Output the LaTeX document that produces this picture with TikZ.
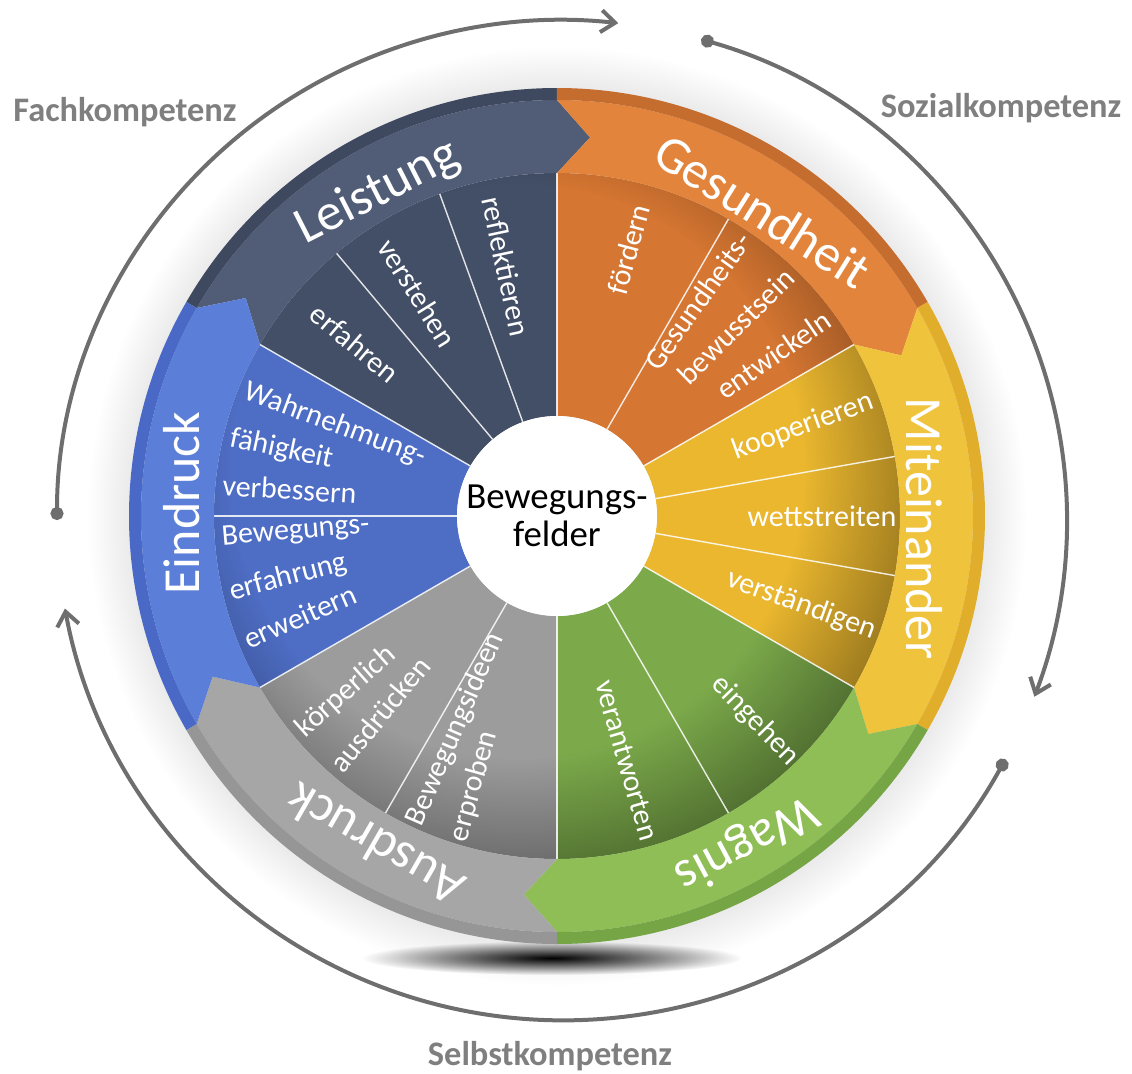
\documentclass[tikz,border=0pt]{standalone}
\usepackage{fontspec}
\setmainfont{Carlito}
\usetikzlibrary{arrows.meta,fadings}

\definecolor{bandleistung}{HTML}{515D77}
\definecolor{fieldleistung}{HTML}{434F66}
\definecolor{rimleistung}{HTML}{3E495F}
\definecolor{bandgesundheit}{HTML}{E2843C}
\definecolor{fieldgesundheit}{HTML}{D57632}
\definecolor{rimgesundheit}{HTML}{C56D2F}
\definecolor{bandmiteinander}{HTML}{F0C33D}
\definecolor{fieldmiteinander}{HTML}{EAB72F}
\definecolor{rimmiteinander}{HTML}{E1AE2C}
\definecolor{bandwagnis}{HTML}{8FBE56}
\definecolor{fieldwagnis}{HTML}{7CAA4B}
\definecolor{rimwagnis}{HTML}{75A545}
\definecolor{bandausdruck}{HTML}{A6A6A6}
\definecolor{fieldausdruck}{HTML}{9C9C9C}
\definecolor{rimausdruck}{HTML}{969696}
\definecolor{bandeindruck}{HTML}{5B7FD8}
\definecolor{fieldeindruck}{HTML}{4E6DC4}
\definecolor{rimeindruck}{HTML}{4A69C6}
\definecolor{arrowgrey}{HTML}{6E6E6E}
\definecolor{labelgrey}{HTML}{7F7F7F}

% shadows round the wheel
\tikzfading[name=floorspot, inner color=transparent!0, outer color=transparent!100]
\pgfdeclareradialshading{bandshadowshade}{\pgfpointorigin}{color(0bp)=(transparent!100); color(17bp)=(transparent!100); color(25bp)=(transparent!0); color(50bp)=(transparent!0)}
\pgfdeclarefading{bandshadow}{\pgfuseshading{bandshadowshade}}
\pgfdeclareradialshading{wheelhalo}{\pgfpointorigin}{color(0bp)=(black!8); color(22.8bp)=(black!8); color(25bp)=(white); color(50bp)=(white)}

\begin{document}
\begin{tikzpicture}[x=0.5pt, y=0.5pt,
    feld/.style={text=white, inner sep=0pt, font=\fontsize{15}{18}\selectfont},
    bereich/.style={text=white, inner sep=0pt, font=\fontsize{26}{30}\selectfont},
    kompetenz/.style={text=labelgrey, font=\fontsize{17.2}{20}\selectfont\bfseries},
    kreislauf/.style={draw=arrowgrey, line width=2pt, line cap=round,
      {Circle[length=6.5pt]}-{Straight Barb[length=7pt,width=11pt]}},
    teiler/.style={draw=white, line width=0.7pt, opacity=0.85},
  ]

\useasboundingbox (-557,-557) rectangle (575,516);

\shade[shading=wheelhalo] (0,0) circle (470);
\fill[black, path fading=floorspot] (-5,-442) ellipse (190 and 17);

% inner fields
\foreach \s/\f in {150/leistung, 90/gesundheit, 30/miteinander, -30/wagnis, -90/ausdruck, -150/eindruck}
  \fill[field\f] (\s:100) arc[start angle=\s, end angle=\s-60, radius=100]
    -- ({\s-60}:343) arc[start angle=\s-60, end angle=\s, radius=343] -- cycle;
\begin{scope}
  \clip (0,0) circle (343);
  \fill[black, path fading=bandshadow, fill opacity=0.38] (-40,45) circle (420);
\end{scope}
\foreach \a in {150,130,110,90,60,30,10,-10,-30,-60,-90,-120,-150,180}
  \draw[teiler] (\a:100) -- (\a:343);

% outer ring of arrows
\foreach \s/\f in {150/leistung, 90/gesundheit, 30/miteinander, -30/wagnis, -90/ausdruck, -150/eindruck}{
  \fill[band\f] (\s:416) arc[start angle=\s, end angle=\s-60, radius=416]
    -- ({\s-65}:380) -- ({\s-60}:343) arc[start angle=\s-60, end angle=\s, radius=343]
    -- ({\s-5}:380) -- cycle;
  \fill[rim\f] (\s:416) arc[start angle=\s, end angle=\s-60, radius=416]
    -- ({\s-60}:428) arc[start angle=\s-60, end angle=\s, radius=428] -- cycle;
}

\node[circle, fill=white, minimum size=100pt, inner sep=0pt, align=center,
  font=\fontsize{18.4}{19}\selectfont] (mitte) at (0,0) {Bewegungs-\\felder};

\node[bereich, rotate=27] (leistung) at (119:370) {Leistung};
\node[bereich, rotate=-32] (gesundheit) at (56:368) {Gesundheit};
\node[bereich, rotate=-90] (miteinander) at (-2:368) {Miteinander};
\node[bereich, rotate=-152] (wagnis) at (-60:378) {Wagnis};
\node[bereich, rotate=150] (ausdruck) at (-119:376) {Ausdruck};
\node[bereich, rotate=90] (eindruck) at (178:376) {Eindruck};

\node[feld, rotate=-40] (erfahren) at (139.5:266) {erfahren};
\node[feld, rotate=-58] (verstehen) at (122:263) {verstehen};
\node[feld, rotate=-78] (reflektieren) at (101.5:255) {reflektieren};

\node[feld, rotate=75] (foerdern) at (75:276) {fördern};
\node[feld, rotate=54.5, anchor=base east] (gesund1) at (54.5:338) {Gesundheits-};
\node[feld, rotate=44.5, anchor=base east] (gesund2) at (44.5:336) {bewusstsein};
\node[feld, rotate=34.5, anchor=base east] (gesund3) at (34.5:336) {entwickeln};

\node[feld, rotate=20] (kooperieren) at (20:262) {kooperieren};
\node[feld] (wettstreiten) at (0:265) {wettstreiten};
\node[feld, rotate=-20] (verstaendigen) at (-20:260) {verständigen};

\node[feld, rotate=-46] (eingehen) at (-46:285) {eingehen};
\node[feld, rotate=-74] (verantworten) at (-74:254) {verantworten};

\node[feld, rotate=41.5, anchor=base west] (koerper1) at (221.5:336) {körperlich};
\node[feld, rotate=50.5, anchor=base west] (koerper2) at (230.5:336) {ausdrücken};
\node[feld, rotate=66.5, anchor=base west] (ideen1) at (246.5:340) {Bewegungsideen};
\node[feld, rotate=74.5, anchor=base west] (ideen2) at (254.5:340) {erproben};

\node[feld, rotate=-20.5, anchor=base west] (wahr1) at (159.5:336) {Wahrnehmung-};
\node[feld, rotate=-12, anchor=base west] (wahr2) at (168:336) {fähigkeit};
\node[feld, rotate=-3.5, anchor=base west] (wahr3) at (176.5:336) {verbessern};
\node[feld, rotate=5, anchor=base west] (erfahr1) at (185:336) {Bewegungs-};
\node[feld, rotate=14.5, anchor=base west] (erfahr2) at (194.5:336) {erfahrung};
\node[feld, rotate=23.5, anchor=base west] (erfahr3) at (203.5:336) {erweitern};

% competences
\path (5,-4) coordinate (ringC);
\path (ringC) ++(180:505 and 500) coordinate (fachStart);
\path (ringC) ++(74:505 and 500) coordinate (sozialStart);
\path (ringC) ++(-28.6:505 and 500) coordinate (selbstStart);
\draw[kreislauf] (fachStart) arc[start angle=180, end angle=83.6, x radius=505, y radius=500];
\draw[kreislauf] (sozialStart) arc[start angle=74, end angle=-20.7, x radius=505, y radius=500];
\draw[kreislauf] (selbstStart) arc[start angle=-28.6, end angle=-169.8, x radius=505, y radius=500];

\node[kompetenz] (fach) at (-432,404) {Fachkompetenz};
\node[kompetenz] (sozial) at (444,408) {Sozialkompetenz};
\node[kompetenz] (selbst) at (-7,-540) {Selbstkompetenz};

\end{tikzpicture}
\end{document}
